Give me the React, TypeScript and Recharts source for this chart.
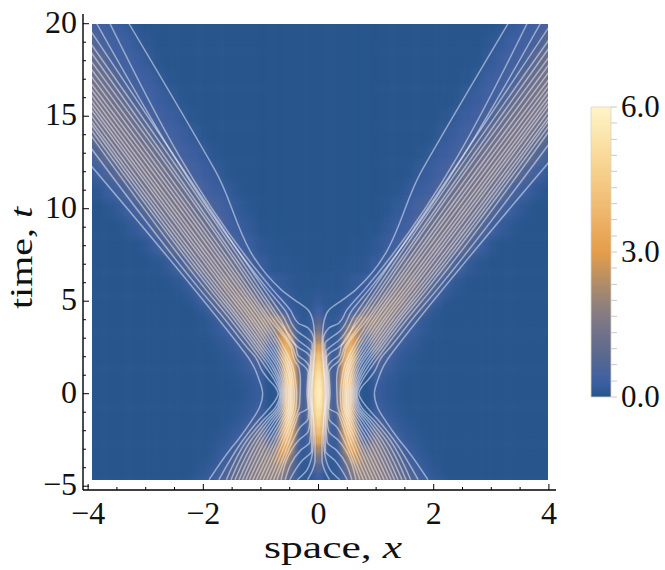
import React from 'react';
import { ScatterChart, Scatter, XAxis, YAxis, BarChart, Bar } from 'recharts';

// density table: right half only, the left half is the mirror image
const coreX = [0, 0.05, 0.1, 0.15, 0.2, 0.25, 0.3, 0.35, 0.4, 0.45, 0.5, 0.55, 0.6, 0.65, 0.7, 0.75, 0.8, 0.85, 0.9, 0.95];
const coreT = [-5, -4.5, -4, -3.5, -3, -2.5, -2, -1.5, -1, -0.5, 0, 0.5, 1, 1.5, 2, 2.5, 3, 3.5, 4, 4.5, 5, 5.5, 6, 7, 8, 9, 10, 21];
const coreRows = [
  [0.3, 0.25, 0.15, 0.12, 0.12, 0.12, 0.15, 0.2, 0.3, 0.5, 0.7, 1, 1.25, 1.5, 1.7, 1.8, 1.8, 1.8, 1.8, 1.8],
  [0.45, 0.35, 0.2, 0.15, 0.12, 0.12, 0.15, 0.22, 0.38, 0.55, 0.85, 1.15, 1.5, 1.75, 1.85, 1.9, 1.9, 1.9, 1.9, 1.9],
  [0.9, 0.7, 0.35, 0.2, 0.12, 0.12, 0.15, 0.25, 0.5, 0.8, 1.2, 1.6, 1.9, 2.1, 2.1, 2, 1.95, 1.9, 1.9, 1.9],
  [1.8, 1.2, 0.5, 0.25, 0.15, 0.12, 0.15, 0.3, 0.65, 1.2, 1.8, 2.3, 2.6, 2.7, 2.5, 2.2, 2, 1.9, 1.85, 1.85],
  [2.8, 1.9, 0.9, 0.4, 0.2, 0.15, 0.18, 0.38, 1, 1.9, 2.7, 3.2, 3.3, 3, 2.4, 1.9, 1.6, 1.5, 1.6, 1.7],
  [3.9, 3.1, 1.8, 0.7, 0.3, 0.18, 0.2, 0.5, 1.4, 2.6, 3.6, 4, 3.7, 2.8, 1.8, 1.1, 0.8, 0.7, 1, 1.3],
  [4.7, 4, 2.8, 1.2, 0.45, 0.2, 0.22, 0.8, 2, 3.2, 4.2, 4.5, 3.9, 2.6, 1.2, 0.5, 0.3, 0.3, 0.5, 0.9],
  [5.2, 4.7, 3.5, 1.8, 0.6, 0.25, 0.25, 1, 2.5, 3.8, 4.7, 4.7, 3.6, 1.9, 0.7, 0.25, 0.1, 0.08, 0.15, 0.4],
  [5.6, 5.2, 4.2, 2.3, 0.8, 0.3, 0.3, 1.3, 3, 4.2, 4.9, 4.7, 3.2, 1.5, 0.45, 0.15, 0.06, 0.06, 0.1, 0.25],
  [5.9, 5.6, 4.6, 2.6, 0.9, 0.3, 0.35, 1.6, 3.3, 4.5, 5, 4.5, 2.9, 1.1, 0.3, 0.1, 0.04, 0.04, 0.08, 0.2],
  [6, 5.7, 4.8, 2.8, 1, 0.3, 0.35, 1.7, 3.4, 4.6, 5, 4.4, 2.7, 0.9, 0.25, 0.08, 0.03, 0.03, 0.07, 0.17],
  [5.9, 5.6, 4.6, 2.6, 0.9, 0.3, 0.35, 1.6, 3.3, 4.5, 5, 4.5, 2.9, 1.1, 0.3, 0.1, 0.04, 0.04, 0.08, 0.2],
  [5.6, 5.2, 4.2, 2.3, 0.8, 0.3, 0.3, 1.3, 3, 4.2, 4.9, 4.7, 3.2, 1.5, 0.45, 0.15, 0.06, 0.06, 0.1, 0.25],
  [5.2, 4.7, 3.5, 1.8, 0.6, 0.25, 0.25, 1, 2.5, 3.8, 4.7, 4.7, 3.6, 1.9, 0.7, 0.25, 0.1, 0.08, 0.15, 0.4],
  [4.7, 4, 2.8, 1.2, 0.45, 0.2, 0.22, 0.8, 1.9, 3.1, 4.1, 4.5, 3.9, 2.5, 1.1, 0.45, 0.2, 0.15, 0.3, 0.7],
  [3.8, 3, 1.7, 0.7, 0.3, 0.18, 0.2, 0.45, 1.3, 2.5, 3.5, 3.9, 3.6, 2.6, 1.5, 0.8, 0.45, 0.45, 0.75, 1.2],
  [2.8, 1.9, 0.9, 0.4, 0.2, 0.15, 0.18, 0.35, 0.9, 1.8, 2.7, 3.2, 3.3, 2.9, 2.2, 1.6, 1.1, 1, 1.2, 1.5],
  [1.8, 1.2, 0.5, 0.25, 0.15, 0.12, 0.15, 0.25, 0.55, 1.1, 1.7, 2.2, 2.5, 2.5, 2.3, 2, 1.8, 1.7, 1.8, 1.9],
  [0.9, 0.7, 0.35, 0.2, 0.12, 0.1, 0.15, 0.25, 0.35, 0.5, 0.75, 1.1, 1.5, 1.8, 2, 2.1, 2.1, 2.1, 2.05, 2],
  [0.45, 0.35, 0.2, 0.12, 0.1, 0.08, 0.1, 0.15, 0.2, 0.25, 0.3, 0.35, 0.45, 0.6, 0.9, 1.1, 1.35, 1.55, 1.75, 1.8],
  [0.25, 0.2, 0.12, 0.08, 0.06, 0.06, 0.08, 0.1, 0.14, 0.17, 0.2, 0.25, 0.28, 0.33, 0.4, 0.5, 0.7, 0.85, 1, 1.15],
  [0.15, 0.1, 0.08, 0.05, 0.05, 0.05, 0.06, 0.08, 0.1, 0.12, 0.15, 0.18, 0.2, 0.22, 0.25, 0.3, 0.35, 0.42, 0.5, 0.65],
  [0.08, 0.06, 0.05, 0.03, 0.03, 0.03, 0.05, 0.06, 0.07, 0.08, 0.1, 0.12, 0.15, 0.18, 0.22, 0.25, 0.28, 0.32, 0.38, 0.45],
  [0, 0, 0, 0, 0, 0, 0.02, 0.03, 0.04, 0.05, 0.05, 0.06, 0.06, 0.07, 0.07, 0.08, 0.09, 0.1, 0.2, 0.25],
  [0, 0, 0, 0, 0, 0, 0, 0, 0, 0, 0, 0, 0.02, 0.03, 0.03, 0.04, 0.05, 0.06, 0.08, 0.1],
  [0, 0, 0, 0, 0, 0, 0, 0, 0, 0, 0, 0, 0, 0, 0.01, 0.01, 0.02, 0.02, 0.03, 0.03],
  [],
  [],
];

const wingX = [1, 1.2, 1.4, 1.6, 1.8, 2, 2.2, 2.4, 2.6, 2.8, 3, 3.2, 3.4, 3.6, 3.8, 4, 4.2];
const wingT = [-5, -4.5, -4, -3.5, -3, -2.5, -2, -1.5, -1, -0.5, 0, 0.5, 1, 1.5, 2, 2.5, 3, 3.5, 4, 4.5, 5, 5.5, 6, 7, 8, 9, 10, 11, 12, 13, 14, 15, 16, 17, 18, 19, 20, 21];
const wingRows = [
  [1.75, 1.6, 1.3, 0.9, 0.5, 0.3, 0.1],
  [1.85, 1.6, 1.2, 0.7, 0.35, 0.15, 0.05],
  [1.85, 1.5, 1, 0.5, 0.25, 0.1],
  [1.8, 1.35, 0.8, 0.35, 0.15, 0.05],
  [1.7, 1.2, 0.55, 0.25, 0.1, 0.03],
  [1.6, 0.9, 0.35, 0.15, 0.05],
  [1.2, 0.55, 0.25, 0.1, 0.03],
  [0.7, 0.32, 0.15, 0.05],
  [0.4, 0.2, 0.08, 0.03],
  [0.3, 0.15, 0.05],
  [0.28, 0.12, 0.04],
  [0.3, 0.14, 0.05],
  [0.4, 0.2, 0.08, 0.03],
  [0.6, 0.3, 0.13, 0.05],
  [1, 0.45, 0.2, 0.08, 0.03],
  [1.4, 0.8, 0.3, 0.15, 0.05],
  [1.7, 1.1, 0.5, 0.22, 0.1, 0.03],
  [1.9, 1.5, 0.85, 0.35, 0.15, 0.05],
  [2, 1.85, 1.3, 0.65, 0.2, 0.05],
  [1.8, 2, 1.7, 1.15, 0.55, 0.12],
  [1.25, 1.85, 1.9, 1.45, 0.9, 0.35, 0.08],
  [0.85, 1.45, 1.85, 1.7, 1.25, 0.65, 0.2, 0.05],
  [0.5, 0.95, 1.5, 1.8, 1.45, 0.95, 0.45, 0.15, 0.03],
  [0.25, 0.5, 1.15, 1.45, 1.6, 1.38, 1.15, 0.5, 0.2, 0.05],
  [0.12, 0.28, 0.42, 1.05, 1.35, 1.6, 1.4, 1.22, 0.78, 0.33, 0.1],
  [0.03, 0.15, 0.3, 0.42, 1, 1.33, 1.5, 1.43, 1.25, 0.78, 0.38, 0.2, 0.05],
  [0, 0.05, 0.18, 0.33, 0.5, 0.95, 1.3, 1.5, 1.45, 1.27, 0.85, 0.45, 0.25, 0.08],
  [0, 0, 0.05, 0.2, 0.3, 0.45, 0.9, 1.25, 1.45, 1.5, 1.33, 0.95, 0.5, 0.33, 0.12, 0.03],
  [0, 0, 0, 0.05, 0.2, 0.3, 0.42, 0.9, 1.25, 1.43, 1.5, 1.38, 1.1, 0.7, 0.38, 0.2, 0.08],
  [0, 0, 0, 0, 0.05, 0.2, 0.3, 0.42, 0.78, 1.22, 1.4, 1.5, 1.4, 1.2, 0.78, 0.45, 0.25],
  [0, 0, 0, 0, 0, 0.05, 0.2, 0.3, 0.42, 0.6, 1.15, 1.35, 1.5, 1.43, 1.25, 0.85, 0.45],
  [0, 0, 0, 0, 0, 0, 0.05, 0.2, 0.3, 0.42, 0.6, 1.1, 1.33, 1.48, 1.45, 1.33, 1.15],
  [0, 0, 0, 0, 0, 0, 0, 0.05, 0.2, 0.3, 0.38, 0.55, 1.05, 1.27, 1.45, 1.48, 1.35],
  [0, 0, 0, 0, 0, 0, 0, 0, 0.05, 0.2, 0.33, 0.42, 0.5, 1.05, 1.25, 1.43, 1.5],
  [0, 0, 0, 0, 0, 0, 0, 0, 0, 0.05, 0.2, 0.33, 0.42, 0.5, 1, 1.25, 1.43],
  [0, 0, 0, 0, 0, 0, 0, 0, 0, 0, 0.1, 0.22, 0.33, 0.42, 0.5, 1, 1.25],
  [0, 0, 0, 0, 0, 0, 0, 0, 0, 0, 0, 0.1, 0.22, 0.33, 0.42, 0.5, 1],
  [0, 0, 0, 0, 0, 0, 0, 0, 0, 0, 0, 0, 0.1, 0.2, 0.3, 0.4, 0.5],
];

// contour lines of the right half as [x, t], top to bottom
const bandT = [5.6, 4, 2.5, 1.5, 0.7, 0, -0.7, -1.5, -2.5, -4.65];
const bandLines = [
  [14.4, 1.95, 1.53, 1.16, 0.93, 0.76, 0.67, 0.74, 0.98, 1.24, 1.6],
  [14.7, 1.87, 1.46, 1.1, 0.87, 0.72, 0.65, 0.7, 0.92, 1.17, 1.52],
  [15, 1.81, 1.4, 1.05, 0.82, 0.69, 0.63, 0.67, 0.87, 1.1, 1.45],
  [15.2, 1.75, 1.35, 1, 0.78, 0.66, 0.61, 0.64, 0.82, 1.04, 1.38],
  [15.5, 1.69, 1.29, 0.95, 0.73, 0.63, 0.59, 0.61, 0.77, 0.98, 1.32],
  [15.8, 1.62, 1.23, 0.9, 0.69, 0.6, 0.57, 0.58, 0.72, 0.92, 1.26],
  [16.05, 1.56, 1.17, 0.85, 0.65, 0.57, 0.55, 0.55, 0.67, 0.86, 1.2],
  [16.3, 1.5, 1.12, 0.8, 0.61, 0.54, 0.52, 0.52, 0.63, 0.8, 1.14],
  [16.6, 1.44, 1.06, 0.75, 0.57, 0.5, 0.49, 0.49, 0.59, 0.75, 1.08],
  [16.9, 1.37, 1, 0.7, 0.53, 0.47, 0.46, 0.46, 0.55, 0.7, 1.02],
  [17.2, 1.31, 0.95, 0.65, 0.49, 0.44, 0.42, 0.43, 0.51, 0.65, 0.96],
  [17.6, 1.25, 0.89, 0.6, 0.45, 0.4, 0.38, 0.39, 0.47, 0.6, 0.9],
];
const waistLines: number[][][] = [
  [[4.05, 12.7], [1.45, 2.9], [1.35, 2.5], [1.19, 1.82], [1.13, 1.5], [1.03, 0.74], [0.97, 0], [1.02, -0.7], [1.17, -1.5], [1.4, -2.5], [1.54, -3.04], [1.9, -4.65]],
  [[4.05, 13.7], [2.05, 5.6], [1.62, 4], [1.24, 2.5], [1.1, 2], [0.97, 1.2], [0.87, 0.78], [0.76, 0.4], [0.7, 0], [0.76, -0.4], [0.86, -0.8], [1.06, -1.5], [1.31, -2.5], [1.73, -4.65]],
  [[4.05, 18], [1.19, 5.6], [0.84, 4], [0.48, 2.5], [0.42, 1.82], [0.34, 1.4], [0.315, 0.75], [0.32, 0], [0.33, -0.6], [0.43, -1.5], [0.55, -2.5], [0.84, -4.65]],
  [[4.05, 18.4], [1.12, 5.6], [0.78, 4], [0.45, 2.5], [0.35, 1.75], [0.25, 1.5], [0.18, 1.15], [0.19, 0.7], [0.2, 0], [0.18, -0.79], [0.33, -1.06], [0.39, -1.5], [0.5, -2.5], [0.78, -4.65]],
  [[4.05, 18.9], [1.06, 5.6], [0.71, 4], [0.4, 2.6], [0.36, 2.1], [0.24, 1.8], [0.16, 1.45], [0.17, 0.8], [0.18, 0], [0.17, -0.7], [0.18, -1.33], [0.33, -1.85], [0.44, -2.5], [0.72, -4.65]],
  [[4.05, 19.35], [1, 5.6], [0.66, 4], [0.35, 2.5], [0.22, 2.25], [0.14, 1.95], [0.15, 1], [0.17, 0], [0.15, -0.7], [0.15, -1.5], [0.18, -2.05], [0.34, -2.5], [0.65, -4.65]],
  [[4.05, 20.05], [0.93, 5.6], [0.62, 4.2], [0.34, 2.85], [0.21, 2.55], [0.13, 2.3], [0.13, 1.5], [0.155, 0], [0.13, -0.7], [0.13, -1.6], [0.15, -2.6], [0.31, -3.05], [0.58, -4.65]],
  [[3.85, 20], [0.87, 5.6], [0.58, 4.5], [0.34, 3.3], [0.2, 3], [0.11, 2.7], [0.11, 1.5], [0.14, 0], [0.12, -0.8], [0.115, -1.6], [0.12, -3.1], [0.28, -3.6], [0.5, -4.65]],
  [[3.62, 20], [0.79, 5.6], [0.49, 4.52], [0.35, 3.81], [0.18, 3.55], [0.08, 2.9], [0.09, 1.5], [0.125, 0], [0.11, -0.8], [0.09, -1.6], [0.09, -2.4], [0.1, -3.04], [0.2, -4.12], [0.37, -4.65]],
  [[3.29, 20], [1.8, 12.1], [0.64, 5.6], [0.41, 5.06], [0.18, 4.52], [0.1, 3.98], [0.07, 3.28], [0.06, 2.6], [0.08, 1.6], [0.1, 0.8], [0.11, 0], [0.1, -0.8], [0.08, -1.6], [0.06, -2.6], [0.06, -3.6], [0.1, -4.1], [0.19, -4.65]],
];

const xTicks = [-4, -3.5, -3, -2.5, -2, -1.5, -1, -0.5, 0, 0.5, 1, 1.5, 2, 2.5, 3, 3.5, 4];
const xLabels = [-4, -2, 0, 2, 4];
const tTicks = [-5, -4, -3, -2, -1, 0, 1, 2, 3, 4, 5, 6, 7, 8, 9, 10, 11, 12, 13, 14, 15, 16, 17, 18, 19, 20];
const tLabels = [-5, 0, 5, 10, 15, 20];
const barTicks = [0, 0.33, 0.67, 1, 1.33, 1.67, 2, 2.33, 2.67, 3, 3.33, 3.67, 4, 4.33, 4.67, 5, 5.33, 5.67, 6];
const barLabels = [0, 3, 6];
const barValue = [{ name: 'density', value: 6 }];

const stopValues = [0, 0.35, 0.8, 1.33, 1.8, 2.3, 3, 3.9, 4.9, 6];
const stopColors = ['#27558c', '#3f60a3', '#56688f', '#72718a', '#8a7e80', '#ad8b68', '#e49d4b', '#efb971', '#f8d795', '#fff4c8'];

const FONT = '"Liberation Serif", serif';
const W = 665;
const H = 570;
const PLOT = { left: 83, right: 556, top: 14, bottom: 490 };
const X_DOMAIN = [-4.089, 4.123];
const T_DOMAIN = [-5.205, 20.525];
const PX_X = (PLOT.right - PLOT.left) / (X_DOMAIN[1] - X_DOMAIN[0]);
const PX_T = (PLOT.bottom - PLOT.top) / (T_DOMAIN[1] - T_DOMAIN[0]);

const hex = (c: string) => [1, 3, 5].map((i) => parseInt(c.slice(i, i + 2), 16));
const colorOf = (v: number) => {
  let i = 0;
  while (i < stopValues.length - 2 && v > stopValues[i + 1]) i++;
  const f = Math.min(1, (v - stopValues[i]) / (stopValues[i + 1] - stopValues[i]));
  const a = hex(stopColors[i]);
  const b = hex(stopColors[i + 1]);
  return `rgb(${a.map((p, k) => Math.round(p + (b[k] - p) * f)).join(',')})`;
};

const allX = [...coreX, ...wingX];
const span = (list: number[], i: number) => {
  const lo = i > 0 ? (list[i] + list[i - 1]) / 2 : list[i] - (list[i + 1] - list[i]) / 2;
  const hi = i < list.length - 1 ? (list[i] + list[i + 1]) / 2 : list[i] + (list[i] - list[i - 1]) / 2;
  return [lo, hi];
};

type Cell = { x: number; t: number; v: number; wide: number; tall: number };
const buildCells = (rows: number[][], times: number[], offset: number, count: number, underlap: number) => {
  const out: Cell[] = [];
  rows.forEach((row, r) => {
    const [tLo, tHi] = span(times, r);
    for (let c = 0; c < count; c++) {
      const [lo, xHi] = span(allX, c + offset);
      // the first wing column runs on under the core so no gap shows after the blur
      const xLo = c === 0 ? lo - underlap : lo;
      const base = { t: (tLo + tHi) / 2, v: row[c] ?? 0, wide: xHi - xLo, tall: tHi - tLo };
      out.push({ ...base, x: (xLo + xHi) / 2 });
      out.push({ ...base, x: -(xLo + xHi) / 2 });
    }
  });
  return out;
};
const coreCells = buildCells(coreRows, coreT, 0, coreX.length, 0);
const wingCells = buildCells(wingRows, wingT, coreX.length, wingX.length, 0.4);

const contourList: number[][][] = [
  waistLines[0],
  waistLines[1],
  ...bandLines.map((row) => [[4.05, row[0]], ...bandT.map((t, i) => [row[i + 1], t])]),
  ...waistLines.slice(2),
];

const HeatCell = (props: any) => {
  const { cx, cy, payload } = props;
  const w = payload.wide * PX_X + 0.6;
  const h = payload.tall * PX_T + 0.6;
  return <rect x={cx - w / 2} y={cy - h / 2} width={w} height={h} fill={colorOf(payload.v)} />;
};
const NoMark = () => <g />;

const XTick = (props: any) => {
  const { x, y, payload, side } = props;
  const major = xLabels.includes(payload.value);
  const len = major ? 6 : 3;
  return (
    <g>
      <line x1={x} x2={x} y1={y} y2={side === 'top' ? y + len : y - len} stroke="#000" strokeWidth={1} />
      {major && side !== 'top' && (
        <text x={x} y={y + 34} textAnchor="middle" fontFamily={FONT} fontSize={32} fill="#111">
          {String(payload.value).replace('-', '\u2212')}
        </text>
      )}
    </g>
  );
};

const TTick = (props: any) => {
  const { x, y, payload, side } = props;
  const major = tLabels.includes(payload.value);
  const len = major ? 6 : 3;
  return (
    <g>
      <line x1={x} x2={side === 'right' ? x - len : x + len} y1={y} y2={y} stroke="#000" strokeWidth={1} />
      {major && side !== 'right' && (
        <text x={x - 6} y={y + 9} textAnchor="end" fontFamily={FONT} fontSize={32} fill="#111">
          {String(payload.value).replace('-', '\u2212')}
        </text>
      )}
    </g>
  );
};

const BarTick = (props: any) => {
  const { x, y, payload } = props;
  const major = barLabels.includes(payload.value);
  return (
    <g>
      <line x1={x} x2={x + 6} y1={y} y2={y} stroke="#c9c9c9" strokeWidth={1} />
      {major && (
        <text x={x + 10} y={y + 10} fontFamily={FONT} fontSize={31} fill="#111">
          {payload.value.toFixed(1)}
        </text>
      )}
    </g>
  );
};

// whole pixels, so the stacked layers do not leave a soft row along the edge
const clipX = Math.round(PLOT.left + (-3.93 - X_DOMAIN[0]) * PX_X);
const clipRight = Math.round(PLOT.left + (3.99 - X_DOMAIN[0]) * PX_X);
const clipTop = Math.round(PLOT.top + (T_DOMAIN[1] - 20) * PX_T);
const clipBottom = Math.round(PLOT.top + (T_DOMAIN[1] + 4.65) * PX_T);
const frameLine = { stroke: '#000', strokeWidth: 1.4 };

const App: React.FC = () => {
  return (
    <div style={{ position: 'absolute', left: 0, top: 0, width: W, height: H, background: '#fff' }}>
      <style>{`
        .wing-layer { filter: blur(4px); clip-path: url(#heat-clip); }
        .core-layer { filter: blur(2px); clip-path: url(#heat-clip); }
        .contour-layer { clip-path: url(#heat-clip); }
      `}</style>
      <svg width={0} height={0} style={{ position: 'absolute' }}>
        <defs>
          <clipPath id="heat-clip" clipPathUnits="userSpaceOnUse">
            <rect x={clipX} y={clipTop} width={clipRight - clipX} height={clipBottom - clipTop} />
          </clipPath>
          <linearGradient id="bar-fill" x1="0" y1="1" x2="0" y2="0">
            {stopValues.map((v, i) => (
              <stop key={v} offset={v / 6} stopColor={stopColors[i]} />
            ))}
          </linearGradient>
        </defs>
      </svg>

      <div style={{ position: 'absolute', left: 0, top: 0 }}>
        <ScatterChart width={W} height={H} margin={{ top: PLOT.top, right: W - PLOT.right, bottom: 0, left: 0 }}>
          <XAxis
            xAxisId={0}
            type="number"
            dataKey="x"
            domain={X_DOMAIN}
            ticks={xTicks}
            interval={0}
            height={H - PLOT.bottom}
            tickSize={0}
            tickMargin={0}
            axisLine={frameLine}
            allowDataOverflow
            tick={<XTick />}
          />
          <XAxis
            xAxisId="top"
            orientation="top"
            type="number"
            domain={X_DOMAIN}
            ticks={xTicks}
            interval={0}
            height={0}
            tickSize={0}
            tickMargin={0}
            axisLine={frameLine}
            allowDataOverflow
            tick={<XTick side="top" />}
          />
          <YAxis
            yAxisId={0}
            type="number"
            dataKey="t"
            domain={T_DOMAIN}
            ticks={tTicks}
            interval={0}
            width={PLOT.left}
            tickSize={0}
            tickMargin={0}
            axisLine={frameLine}
            allowDataOverflow
            tick={<TTick />}
          />
          <YAxis
            yAxisId="right"
            orientation="right"
            type="number"
            domain={T_DOMAIN}
            ticks={tTicks}
            interval={0}
            width={0}
            tickSize={0}
            tickMargin={0}
            axisLine={frameLine}
            allowDataOverflow
            tick={<TTick side="right" />}
          />
          <Scatter data={wingCells} className="wing-layer" shape={<HeatCell />} isAnimationActive={false} />
          <Scatter data={coreCells} className="core-layer" shape={<HeatCell />} isAnimationActive={false} />
          {contourList.map((line, i) =>
            [1, -1].map((sign) => (
              <Scatter
                key={`contour-${i}-${sign}`}
                data={line.map(([x, t]) => ({ x: sign * x, t }))}
                className="contour-layer"
                line={{ stroke: '#f4f6ff', strokeOpacity: 0.5, strokeWidth: 1.5 }}
                lineJointType="monotoneY"
                shape={<NoMark />}
                isAnimationActive={false}
              />
            ))
          )}
          <text
            x={333}
            y={558}
            textAnchor="middle"
            fontFamily={FONT}
            fontSize={32}
            fill="#111"
            textLength={138}
            lengthAdjust="spacingAndGlyphs"
          >
            space, <tspan fontStyle="italic">x</tspan>
          </text>
          <text
            transform="translate(32 258) rotate(-90)"
            textAnchor="middle"
            fontFamily={FONT}
            fontSize={32}
            fill="#111"
            textLength={102}
            lengthAdjust="spacingAndGlyphs"
          >
            time, <tspan fontStyle="italic">t</tspan>
          </text>
        </ScatterChart>
      </div>

      <div style={{ position: 'absolute', left: 590, top: 0 }}>
        <BarChart
          width={75}
          height={H}
          data={barValue}
          margin={{ top: 107, right: 0, bottom: 173, left: 1 }}
          barCategoryGap={0}
        >
          <XAxis dataKey="name" hide />
          <YAxis
            orientation="right"
            type="number"
            domain={[0, 6]}
            ticks={barTicks}
            interval={0}
            width={54}
            tickSize={0}
            tickMargin={0}
            axisLine={false}
            tick={<BarTick />}
          />
          <Bar dataKey="value" fill="url(#bar-fill)" stroke="#d9d4c4" strokeWidth={0.8} isAnimationActive={false} />
        </BarChart>
      </div>
    </div>
  );
};

export default App;
